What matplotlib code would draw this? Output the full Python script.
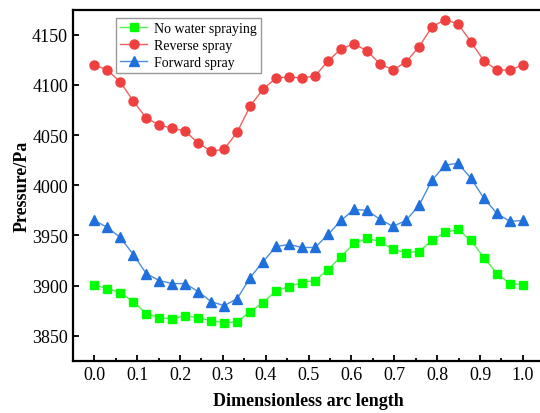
import numpy as np
import matplotlib.pyplot as plt
from matplotlib.ticker import MultipleLocator

plt.rcParams['font.family'] = ['Liberation Serif', 'DejaVu Serif']

# dimensionless arc length, 34 sample points
arc = np.linspace(0, 1, 34)

no_spray = [3901, 3897, 3893, 3884, 3872, 3868, 3867, 3870, 3868, 3865,
            3863, 3864, 3874, 3883, 3895, 3899, 3903, 3905, 3916, 3929,
            3942, 3947, 3944, 3936, 3933, 3934, 3945, 3953, 3956, 3945,
            3928, 3912, 3902, 3901]
reverse = [4120, 4115, 4103, 4084, 4067, 4060, 4057, 4054, 4042, 4034,
           4036, 4053, 4079, 4096, 4107, 4108, 4107, 4109, 4124, 4136,
           4141, 4134, 4121, 4115, 4123, 4138, 4158, 4165, 4161, 4143,
           4124, 4115, 4115, 4120]
forward = [3965, 3958, 3948, 3931, 3912, 3905, 3902, 3902, 3894, 3884,
           3880, 3887, 3908, 3924, 3939, 3941, 3938, 3938, 3951, 3965,
           3976, 3975, 3966, 3959, 3965, 3980, 4005, 4020, 4022, 4007,
           3987, 3972, 3964, 3965]

fig = plt.figure(figsize=(5.4, 4.14), dpi=100)
ax = fig.add_axes([0.135, 0.126, 0.873, 0.848])

ax.plot(arc, no_spray, color='#55ee55', lw=1, marker='s', ms=6,
        mfc='#00ff00', mec='#00ff00', label='No water spraying')
ax.plot(arc, reverse, color='#f06060', lw=1, marker='o', ms=6.5,
        mfc='#ef4040', mec='#ef4040', label='Reverse spray')
ax.plot(arc, forward, color='#4a8ee0', lw=1, marker='^', ms=6.5,
        mfc='#1f6fdd', mec='#1f6fdd', label='Forward spray')

ax.set_xlim(-0.05, 1.05)
ax.set_ylim(3825, 4175)
ax.xaxis.set_major_locator(MultipleLocator(0.1))
ax.xaxis.set_minor_locator(MultipleLocator(0.05))
ax.yaxis.set_major_locator(MultipleLocator(50))
ax.xaxis.set_major_formatter(plt.FormatStrFormatter('%.1f'))
ax.tick_params(which='both', direction='in', labelsize=13, width=1.3)
ax.tick_params(which='major', length=4)
ax.tick_params(which='minor', length=2.5)
for s in ax.spines.values():
    s.set_linewidth(1.6)

ax.set_xlabel('Dimensionless arc length', fontsize=13, fontweight='bold',
              labelpad=7)
ax.set_ylabel('Pressure/Pa', fontsize=13, fontweight='bold', labelpad=1)

leg = ax.legend(loc='upper left', bbox_to_anchor=(0.077, 0.995), fontsize=10,
                fancybox=False, edgecolor='#999999', framealpha=1,
                handlelength=2.0, borderpad=0.25, labelspacing=0.3,
                handletextpad=0.5)
leg.get_frame().set_linewidth(1)

fig.savefig('out.png', dpi=100)
